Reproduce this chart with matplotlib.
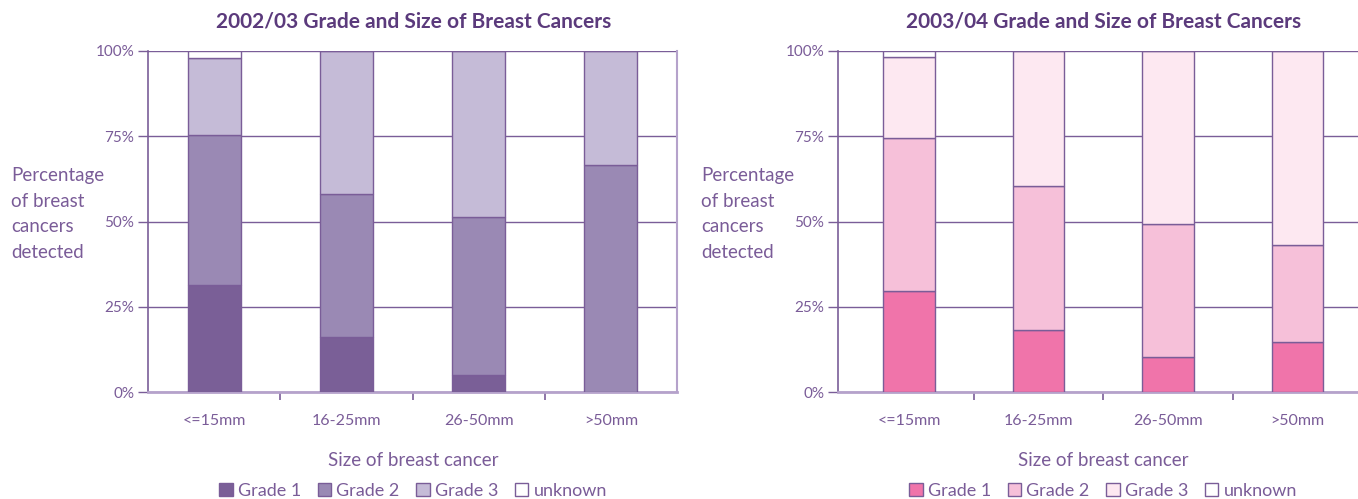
import matplotlib
matplotlib.use("Agg")
import matplotlib.pyplot as plt
from matplotlib.patches import Patch
import numpy as np

plt.rcParams['font.family'] = ['Lato', 'DejaVu Sans']

categories = ["<=15mm", "16-25mm", "26-50mm", ">50mm"]
series_names = ["Grade 1", "Grade 2", "Grade 3", "unknown"]

# 2002/03 percentages
g1_0203 = [31.5, 16.0, 5.0, 0.0]
g2_0203 = [43.8, 42.0, 46.3, 66.7]
g3_0203 = [22.7, 42.0, 48.7, 33.3]
unk_0203 = [2.0, 0.0, 0.0, 0.0]

# 2003/04 percentages
g1_0304 = [29.5, 18.2, 10.3, 14.8]
g2_0304 = [45.0, 42.1, 39.0, 28.2]
g3_0304 = [23.8, 39.7, 50.7, 57.0]
unk_0304 = [1.7, 0.0, 0.0, 0.0]

title_0203 = "2002/03 Grade and Size of Breast Cancers"
title_0304 = "2003/04 Grade and Size of Breast Cancers"
yticks = [0, 25, 50, 75, 100]
ytick_labels = ["0%", "25%", "50%", "75%", "100%"]

colors_0203 = ["#7a5f97", "#9a89b4", "#c5bbd7", "#ffffff"]
colors_0304 = ["#f074aa", "#f6c0d9", "#fde8f1", "#ffffff"]

TXT = "#7a5c98"
TITLE = "#5b3a7c"
DARK = "#7a5d98"
LIGHT = "#b5a2cb"

W, H = 1358, 499
fig = plt.figure(figsize=(W / 100, H / 100), dpi=100)


def px(x0, x1, y0, y1):
    return [x0 / W, 1 - y1 / H, (x1 - x0) / W, (y1 - y0) / H]


def draw(ax, data, colors, xlim, title, title_x, center_x):
    x = np.arange(len(categories))
    bottom = np.zeros(len(categories))
    for vals, c, name in zip(data, colors, series_names):
        v = np.array(vals)
        ax.bar(x, v, 0.4, bottom=bottom, color=c, edgecolor=DARK,
               linewidth=1.0, label=name, zorder=3)
        bottom += v
    ax.set_xlim(*xlim)
    ax.set_ylim(0, 100)
    ax.set_yticks(yticks)
    ax.set_yticklabels(ytick_labels)
    ax.set_xticks(x)
    ax.set_xticklabels(categories)
    ax.set_xticks(np.arange(len(categories) - 1) + 0.5, minor=True)
    ax.tick_params(axis='x', which='major', length=0, pad=16,
                   labelsize=11.5, labelcolor=TXT)
    ax.tick_params(axis='x', which='minor', length=6, width=1.2,
                   color=DARK, direction='out')
    ax.tick_params(axis='y', length=7, width=1.0, color=DARK,
                   labelsize=11, labelcolor=TXT, pad=3)
    ax.spines['left'].set_color(DARK)
    ax.spines['left'].set_linewidth(1.2)
    ax.spines['bottom'].set_color(LIGHT)
    ax.spines['bottom'].set_linewidth(2.0)
    ax.spines['right'].set_color(LIGHT)
    ax.spines['right'].set_linewidth(1.5)
    ax.spines['top'].set_visible(False)
    ax.yaxis.grid(True, color=DARK, linewidth=1.0)
    ax.set_axisbelow(True)
    fig.text(title_x / W, 1 - 22 / H, title, ha='center', va='center',
             fontsize=15, fontweight='bold', color=TITLE)
    fig.text(center_x / W, 1 - 460 / H, "Size of breast cancer",
             ha='center', va='center', fontsize=13.5, color=TXT)
    handles = [Patch(facecolor=c, edgecolor=DARK, linewidth=1.0)
               for c in colors]
    fig.legend(handles, series_names, loc='center',
               bbox_to_anchor=(center_x / W, 1 - 491 / H), ncol=4,
               frameon=False, handlelength=0.75, handleheight=0.75,
               handletextpad=0.3, columnspacing=0.9,
               prop={'size': 13}, labelcolor=TXT)


ax1 = fig.add_axes(px(148, 677, 51, 392))
draw(ax1, [g1_0203, g2_0203, g3_0203, unk_0203], colors_0203,
     (-0.5, 3.5), title_0203, 414, 413)
fig.text(11 / W, 1 - 214 / H, "Percentage\nof breast\ncancers\ndetected",
         ha='left', va='center', fontsize=13.5, color=TXT,
         linespacing=1.6)

ax2 = fig.add_axes(px(838, 1369, 51, 392))
draw(ax2, [g1_0304, g2_0304, g3_0304, unk_0304], colors_0304,
     (-0.548, 3.552), title_0304, 1104, 1103)
fig.text(701 / W, 1 - 214 / H, "Percentage\nof breast\ncancers\ndetected",
         ha='left', va='center', fontsize=13.5, color=TXT,
         linespacing=1.6)

fig.savefig("out.png", dpi=100)
